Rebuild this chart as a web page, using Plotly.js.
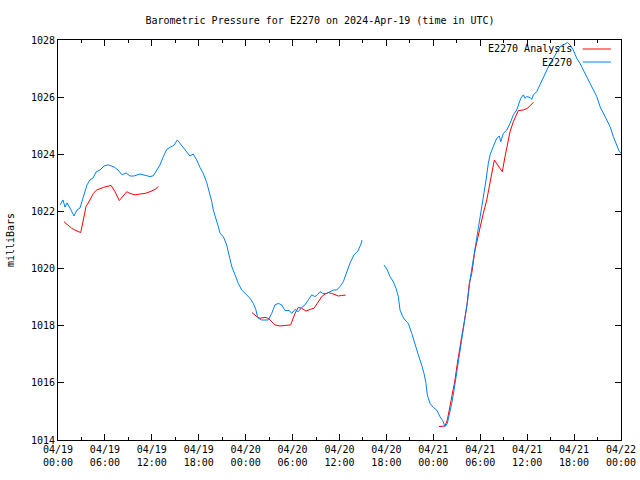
<!DOCTYPE html>
<html>
<head>
<meta charset="utf-8">
<script src="https://cdn.plot.ly/plotly-3.0.1.min.js"></script>
<style>html,body{margin:0;padding:0;background:#fff}#chart{width:640px;height:480px}</style>
</head>
<body>
<div id="chart"></div>
<script>
// Hours since 2024-04-19 00:00 UTC
const stationHours = [0.26,0.64,0.90,1.15,1.53,2.05,2.43,2.81,3.20,3.71,4.09,4.48,4.86,5.37,5.88,6.39,7.16,7.67,8.19,8.70,9.21,9.72,10.49,11.00,11.77,12.19,12.62,13.04,13.47,13.90,14.32,14.84,15.26,15.69,16.03,16.46,16.88,17.30,17.74,18.16,18.58,19.02,19.35,19.66,19.86,20.21,20.50,20.72,21.14,21.58,21.91,22.22,22.64,23.06,23.49,24.13,24.56,24.98,25.32,25.49,25.62,26.05,26.90,27.33,27.75,28.17,28.61,29.03,29.58,29.89,30.31,30.73,31.17,31.59,32.01,32.45,32.87,33.16,33.51,33.85,34.36,34.79,35.21,35.64,36.06,36.49,36.96,37.34,37.85,38.37,38.75,38.88,
  40.3,
  41.69,42.12,42.46,42.88,43.23,43.52,43.74,44.08,44.38,44.80,45.24,45.66,46.08,46.51,46.81,47.06,47.23,47.58,48.00,48.43,48.86,49.20,49.49,49.79,50.13,50.35,50.65,50.90,51.20,51.50,51.84,52.14,52.40,52.69,53.11,53.55,53.97,54.39,54.74,55.03,55.25,55.67,56.11,56.44,56.62,56.95,57.39,57.81,58.23,58.66,59.00,59.18,59.51,59.73,59.94,60.37,60.58,60.79,61.22,61.64,61.86,62.50,62.92,63.35,63.78,64.20,64.84,65.14,65.48,65.90,66.34,66.76,67.18,67.62,68.04,68.46,68.90,69.32,69.74,70.17,70.60,71.02,71.45,71.79,72.00];
const stationPressure = [1022.23,1022.40,1022.15,1022.30,1022.12,1021.84,1022.05,1022.12,1022.47,1022.93,1023.10,1023.17,1023.38,1023.45,1023.59,1023.63,1023.56,1023.45,1023.28,1023.35,1023.24,1023.24,1023.31,1023.28,1023.22,1023.25,1023.45,1023.63,1023.92,1024.17,1024.24,1024.32,1024.50,1024.36,1024.21,1024.09,1023.94,1024.01,1023.80,1023.54,1023.33,1023.01,1022.70,1022.35,1022.05,1021.76,1021.47,1021.23,1021.12,1020.82,1020.42,1020.07,1019.78,1019.48,1019.25,1019.07,1018.96,1018.78,1018.55,1018.34,1018.26,1018.20,1018.20,1018.43,1018.73,1018.78,1018.73,1018.53,1018.53,1018.43,1018.57,1018.49,1018.64,1018.73,1018.90,1019.08,1019.02,1019.08,1019.19,1019.13,1019.13,1019.19,1019.25,1019.25,1019.37,1019.54,1019.88,1020.19,1020.48,1020.62,1020.86,1021.00,
  null,
  1020.13,1019.95,1019.72,1019.54,1019.31,1019.02,1018.55,1018.32,1018.20,1018.08,1017.73,1017.32,1016.98,1016.62,1016.33,1015.98,1015.58,1015.28,1015.14,1015.05,1014.81,1014.68,1014.47,1014.58,1014.99,1015.28,1015.75,1016.22,1016.74,1017.27,1017.85,1018.37,1018.90,1019.60,1020.30,1021.12,1021.70,1022.40,1023.10,1023.68,1023.98,1024.27,1024.56,1024.64,1024.44,1024.73,1024.85,1025.08,1025.38,1025.55,1025.84,1025.96,1026.08,1025.96,1026.02,1025.99,1025.92,1026.08,1026.19,1026.43,1026.60,1026.95,1027.18,1027.36,1027.59,1027.77,1027.86,1027.91,1027.83,1027.65,1027.36,1027.18,1026.95,1026.72,1026.48,1026.25,1026.02,1025.67,1025.43,1025.20,1024.97,1024.62,1024.32,1024.09,1024.04];

const analysisHours = [0.77,1.32,1.75,2.30,2.90,3.24,3.58,4.09,4.51,4.95,5.79,6.78,7.29,7.84,8.27,8.79,9.21,9.85,10.49,11.13,11.77,12.41,12.83,
  18.0,
  24.81,25.41,25.83,26.47,26.90,27.33,27.75,28.39,29.25,29.76,30.31,30.73,31.17,31.72,32.23,32.74,33.16,33.73,34.15,34.57,35.00,35.43,35.85,36.28,36.79,
  42.0,
  48.73,49.49,49.79,50.13,50.48,50.77,51.07,51.32,51.63,51.92,52.27,52.60,52.91,53.33,53.97,54.39,54.83,55.25,55.59,55.80,56.31,56.82,57.17,57.46,57.81,58.23,58.66,58.87,59.51,60.02,60.46,60.79];
const analysisPressure = [1021.64,1021.52,1021.41,1021.33,1021.26,1021.70,1022.17,1022.40,1022.63,1022.75,1022.84,1022.91,1022.69,1022.38,1022.54,1022.69,1022.63,1022.58,1022.61,1022.63,1022.69,1022.77,1022.87,
  null,
  1018.46,1018.32,1018.26,1018.29,1018.26,1018.14,1018.03,1017.99,1018.00,1018.03,1018.43,1018.64,1018.61,1018.51,1018.57,1018.61,1018.78,1019.02,1019.11,1019.16,1019.13,1019.08,1019.04,1019.06,1019.07,
  null,
  1014.47,1014.49,1014.70,1015.17,1015.63,1016.10,1016.68,1017.15,1017.62,1018.08,1018.67,1019.48,1019.83,1020.65,1021.47,1021.93,1022.40,1022.98,1023.57,1023.80,1023.59,1023.39,1023.92,1024.38,1024.79,1025.14,1025.38,1025.53,1025.55,1025.61,1025.72,1025.82];

const xTickVals = [0,6,12,18,24,30,36,42,48,54,60,66,72];
const xTickText = ['04/19<br>00:00','04/19<br>06:00','04/19<br>12:00','04/19<br>18:00','04/20<br>00:00','04/20<br>06:00','04/20<br>12:00','04/20<br>18:00','04/21<br>00:00','04/21<br>06:00','04/21<br>12:00','04/21<br>18:00','04/22<br>00:00'];
const yTickVals = [1014,1016,1018,1020,1022,1024,1026,1028];

const seriesNames = ['E2270 Analysis','E2270'];
const seriesColors = ['#ff0000','#0080ff'];

const font = {family:'DejaVu Sans Mono, monospace', size:10, color:'#000'};

const traces = [
  {x: analysisHours, y: analysisPressure, name: seriesNames[0], type:'scatter', mode:'lines',
   line:{color:seriesColors[0], width:1}, connectgaps:false},
  {x: stationHours, y: stationPressure, name: seriesNames[1], type:'scatter', mode:'lines',
   line:{color:seriesColors[1], width:1}, connectgaps:false}
];

const layout = {
  width:640, height:480,
  margin:{l:58, r:19, t:40, b:40},
  paper_bgcolor:'#fff', plot_bgcolor:'#fff',
  showlegend:false,
  font: font,
  title:{text:'Barometric Pressure for E2270 on 2024-Apr-19 (time in UTC)', font:font, x:0.5, xanchor:'center', y:0.958, yanchor:'middle'},
  xaxis:{range:[0,72], tickmode:'array', tickvals:xTickVals, ticktext:xTickText,
    ticks:'inside', ticklen:6, tickcolor:'#000', tickwidth:1,
    showline:true, linecolor:'#000', linewidth:1, mirror:'allticks',
    showgrid:false, zeroline:false, tickfont:font,
    minor:{tickmode:'linear', tick0:0, dtick:3, ticks:'inside', ticklen:3, tickcolor:'#000', showgrid:false}},
  yaxis:{range:[1014,1028], tickmode:'array', tickvals:yTickVals,
    ticks:'inside', ticklen:6, tickcolor:'#000', tickwidth:1,
    showline:true, linecolor:'#000', linewidth:1, mirror:'allticks',
    showgrid:false, zeroline:false, tickfont:font,
    title:{text:'milliBars', font:font, standoff:14}},
  annotations:[
    {xref:'paper', yref:'paper', x:0.917, y:0.9775, xanchor:'right', yanchor:'middle', text:seriesNames[0], showarrow:false, font:font},
    {xref:'paper', yref:'paper', x:0.917, y:0.945, xanchor:'right', yanchor:'middle', text:seriesNames[1], showarrow:false, font:font}
  ],
  shapes:[
    {type:'line', xref:'paper', yref:'paper', x0:0.932, x1:0.982, y0:0.9775, y1:0.9775, line:{color:seriesColors[0], width:1}},
    {type:'line', xref:'paper', yref:'paper', x0:0.932, x1:0.982, y0:0.945, y1:0.945, line:{color:seriesColors[1], width:1}}
  ]
};

Plotly.newPlot('chart', traces, layout, {staticPlot:true, displayModeBar:false});
</script>
</body>
</html>
